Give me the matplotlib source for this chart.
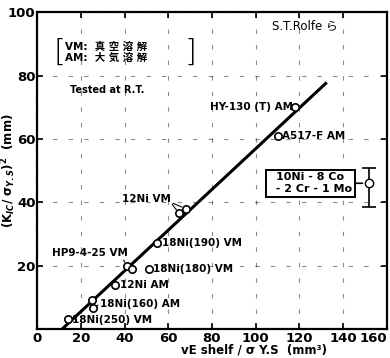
import matplotlib
matplotlib.use("Agg")
import matplotlib.pyplot as plt

plt.rcParams['font.family'] = ['DejaVu Sans', 'Noto Sans CJK JP']
plt.rcParams['font.weight'] = 'bold'

# measured points (vE shelf / sigma_YS, (KIC/sigma_YS)^2)
steel_x = [14, 25, 25.5, 35.5, 41, 43.5, 51, 55, 65, 68, 110, 118]
steel_y = [3, 9, 6.5, 14, 20, 19, 19, 27, 36.5, 38, 61, 70]

# correlation line
fit_x = [11.5, 132]
fit_y = [0, 77.5]

# 10Ni-8Co-2Cr-1Mo: mean with scatter band
co_x = [152]
co_y = [46]
co_lo = [38.5]
co_hi = [50.8]

xticks = [0, 20, 40, 60, 80, 100, 120, 140, 160]
yticks = [20, 40, 60, 80, 100]

fig = plt.figure(figsize=(3.9, 3.58), dpi=100)
ax = fig.add_axes([0.095, 0.081, 0.897, 0.885])

ax.set_xlim(0, 160)
ax.set_ylim(0, 100)
ax.set_xticks(xticks)
ax.set_yticks(yticks)
ax.tick_params(direction='in', top=True, right=True, length=4, width=1.2,
               labelsize=9.5)
ax.tick_params(axis='x', pad=2)
ax.tick_params(axis='y', pad=1)
# last x label squeezed against the edge, as in the scan
ax.get_xticklabels()[-1].set_ha('right')
for s in ax.spines.values():
    s.set_linewidth(1.6)
ax.grid(True, color='black', linestyle=(0, (4, 10)), linewidth=0.8, alpha=0.45)
ax.set_axisbelow(True)

ax.plot(fit_x, fit_y, color='black', lw=2.2, zorder=3)
ax.scatter(steel_x, steel_y, s=28, facecolor='white', edgecolor='black',
           linewidth=1.2, zorder=4)

ax.errorbar(co_x, co_y, yerr=[[co_y[0] - co_lo[0]], [co_hi[0] - co_y[0]]],
            fmt='o', mfc='white', mec='black', ms=6, color='black',
            capsize=5, elinewidth=1.2, capthick=1.2, zorder=4)
ax.annotate('10Ni - 8 Co\n  - 2 Cr - 1 Mo', xy=(co_x[0], co_y[0]), xytext=(125, 46),
            ha='center', va='center', fontsize=8, fontweight='bold',
            bbox=dict(boxstyle='square,pad=0.25', fc='white', ec='black', lw=1.4),
            arrowprops=dict(arrowstyle='-', color='black', lw=1.2,
                            shrinkA=0, shrinkB=5))

lab = dict(fontsize=7.5, fontweight='bold', va='center')
ax.text(117, 70, 'HY-130 (T) AM', ha='right', **lab)
ax.text(112, 61, 'A517-F AM', ha='left', **lab)
ax.text(39, 41, '12Ni VM', ha='left', **lab)
ax.annotate('', xy=(steel_x[8], steel_y[8]), xytext=(61, 40),
            arrowprops=dict(arrowstyle='-', color='black', lw=0.8, shrinkB=3))
ax.annotate('', xy=(steel_x[9], steel_y[9]), xytext=(61, 40),
            arrowprops=dict(arrowstyle='-', color='black', lw=0.8, shrinkB=3))
ax.text(57, 27, '18Ni(190) VM', ha='left', **lab)
ax.text(53, 19, '18Ni(180) VM', ha='left', **lab)
ax.text(7, 24, 'HP9-4-25 VM', ha='left', **lab)
ax.annotate('', xy=(steel_x[4], steel_y[4]), xytext=(39, 22.5),
            arrowprops=dict(arrowstyle='-', color='black', lw=0.8, shrinkB=3))
ax.text(38, 14, '12Ni AM', ha='left', **lab)
ax.annotate('18Ni(160) AM', xy=(steel_x[1], steel_y[1]), xytext=(29, 8),
            ha='left', va='center', fontsize=7.5, fontweight='bold',
            arrowprops=dict(arrowstyle='-', color='black', lw=0.8, shrinkB=3))
ax.annotate('', xy=(steel_x[2], steel_y[2]), xytext=(29, 8),
            arrowprops=dict(arrowstyle='-', color='black', lw=0.8, shrinkB=3))
ax.text(16, 2.8, '18Ni(250) VM', ha='left', **lab)

ax.text(0.08, 0.873, 'VM:  真 空 溶 解\nAM:  大 気 溶 解', transform=ax.transAxes,
        fontsize=7.5, fontweight='bold', va='center', ha='left', linespacing=1.0,
        family=['DejaVu Sans', 'Noto Sans CJK JP'])
ax.text(0.065, 0.873, '[', transform=ax.transAxes, fontsize=22,
        va='center', ha='center', fontweight='light')
ax.text(0.44, 0.873, ']', transform=ax.transAxes, fontsize=22,
        va='center', ha='center', fontweight='light')
ax.text(0.095, 0.755, 'Tested at R.T.', transform=ax.transAxes,
        fontsize=7, fontweight='bold', ha='left', va='center')
ax.text(0.86, 0.955, 'S.T.Rolfe ら', transform=ax.transAxes, fontsize=8.5,
        ha='right', va='center', fontweight='normal',
        family=['DejaVu Sans', 'Noto Sans CJK JP'])

ax.set_xlabel('vE shelf / σ Y.S  (mm³)', fontsize=8.5, fontweight='bold')
ax.xaxis.set_label_coords(0.62, -0.045)
ax.set_ylabel('(K$_{IC}$/ σ$_{Y.S}$)$^2$  (mm)', fontsize=8.5, fontweight='bold')
ax.yaxis.set_label_coords(-0.054, 0.5)

fig.savefig('out.png', dpi=100)
